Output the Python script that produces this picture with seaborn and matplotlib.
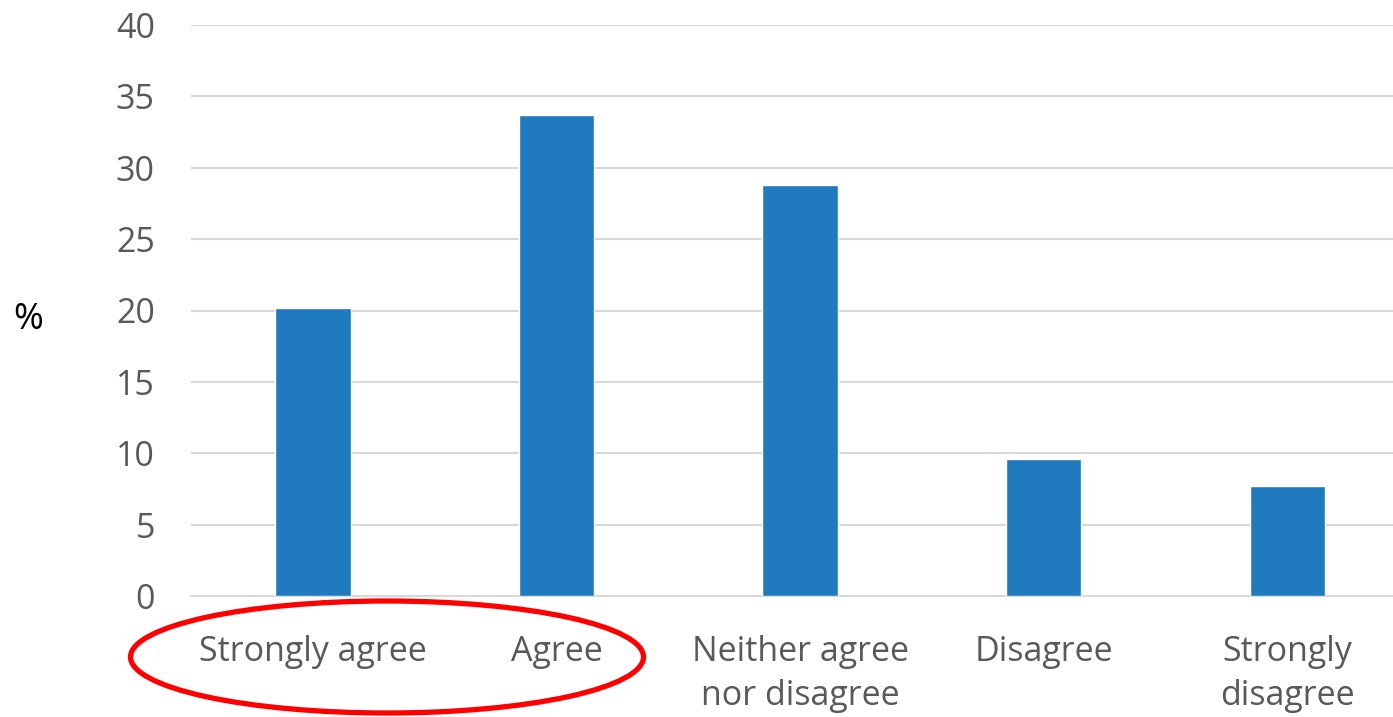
import matplotlib
matplotlib.use("Agg")
import matplotlib.pyplot as plt
from matplotlib.patches import Ellipse
import seaborn as sns
import pandas as pd

categories = ["Strongly agree", "Agree", "Neither agree\nnor disagree",
              "Disagree", "Strongly\ndisagree"]
values = [20.2, 33.7, 28.8, 9.6, 7.7]
yticks = [0, 5, 10, 15, 20, 25, 30, 35, 40]

sns.set_style("white")
plt.rcParams["font.family"] = ["Open Sans", "DejaVu Sans"]

BAR = "#1F7BBD"
GRID = "#D9D9D9"
TXT = "#595959"

df = pd.DataFrame({"cat": categories, "val": values})

W, H = 1393, 717
fig = plt.figure(figsize=(W / 100, H / 100), dpi=100)
ax = fig.add_axes([191 / W, 1 - 596 / H, (1393 - 191) / W, (596 - 25) / H])

sns.barplot(data=df, x="cat", y="val", color=BAR, width=0.31,
            saturation=1, ax=ax, zorder=3)

ax.set_ylim(0, 40)
ax.set_xlim(-0.5, 4.434)
ax.set_yticks(yticks)
ax.yaxis.grid(True, color=GRID, linewidth=1.5, zorder=0)
ax.set_axisbelow(True)
for s in ["top", "right", "left"]:
    ax.spines[s].set_visible(False)
ax.spines["bottom"].set_color(GRID)
ax.spines["bottom"].set_linewidth(1.5)
ax.tick_params(axis="both", length=0, labelsize=24.5, colors=TXT)
ax.tick_params(axis="y", pad=26)
ax.tick_params(axis="x", pad=28)
for lab in ax.get_xticklabels():
    lab.set_linespacing(1.4)
ax.set_xlabel("")
ax.set_ylabel("")

fig.text(28 / W, 1 - 320 / H, "%", fontsize=26, color="black",
         ha="center", va="center")

ell = Ellipse((387 / W, 1 - 657 / H), 513 / W, 112 / H,
              transform=fig.transFigure, fill=False,
              edgecolor="#FF0000", linewidth=3.8, zorder=10)
fig.add_artist(ell)

fig.savefig("out.png", dpi=100)
